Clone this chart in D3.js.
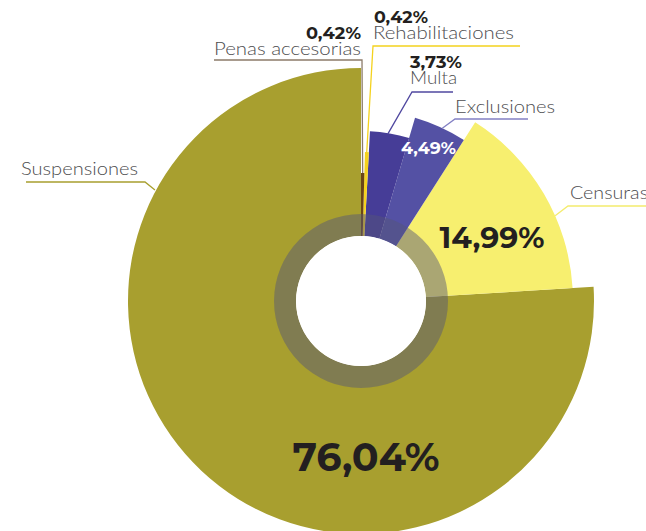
<!DOCTYPE html>
<html><head><meta charset="utf-8">
<script src="https://cdn.jsdelivr.net/npm/d3@7"></script>
<style>
html,body{margin:0;padding:0;background:#fff;}
svg{display:block;}
</style></head>
<body>
<svg id="chart" width="646" height="531"></svg>
<script>
// ---- data ----
const categories = ["Penas accesorias","Rehabilitaciones","Multa","Exclusiones","Censuras","Suspensiones"];
const values = [0.42, 0.42, 3.73, 4.49, 14.99, 76.04];
const valueLabels = ["0,42%","0,42%","3,73%","4,49%","14,99%","76,04%"];

// ---- styles / layout ----
const colors = ["#6B4516","#F4D21E","#463D97","#5451A4","#F7EF6F","#A89F2F"];
const leaderColors = ["#8C7B6A","#F4D21E","#5048A0","#8380C4","#F4EC6E","#A89F2F"];
const W = 646, H = 531, cx = 361, cy = 301;
const holeR = 65, ringR = 87;

const svg = d3.select("#chart");
const g = svg.append("g").attr("transform", `translate(${cx},${cy})`);

const data = categories.map((c, i) => ({name: c, value: values[i], label: valueLabels[i], i}));
const pie = d3.pie().sort(null).value(d => d.value);
const arcsData = pie(data);
const rScale = d3.scaleLinear().domain([0, categories.length - 1]).range([128, 233]);

const arc = d3.arc().innerRadius(holeR).outerRadius(d => rScale(d.data.i));

// draw slices (big ones first so the thin ones remain visible)
g.selectAll("path.slice").data(arcsData.slice().reverse()).join("path")
  .attr("class", "slice")
  .attr("d", arc)
  .attr("fill", d => colors[d.data.i]);

// translucent ring
g.append("path")
  .attr("d", d3.arc().innerRadius(holeR).outerRadius(ringR).startAngle(0).endAngle(2 * Math.PI)())
  .attr("fill", "rgb(85,85,120)").attr("fill-opacity", 0.48);
// white hole
g.append("circle").attr("r", holeR).attr("fill", "#fff");

// ---- leaders & labels ----
const leaderLayout = [
  {a: 0.75, r: 128, elbow: [362, 60], endX: 214, name: {x: 361, y: 55, anchor: "end", w: 147}, pct: {x: 361, y: 39, anchor: "end", w: 55}},
  {a: 2.2, r: 148, elbow: [373, 46], endX: 520, name: {x: 373, y: 39, anchor: "start", w: 141}, pct: {x: 374, y: 23, anchor: "start", w: 54}},
  {a: 9.1, r: 169, elbow: [412, 92], endX: 453, name: {x: 410, y: 84, anchor: "start", w: 47}, pct: {x: 410, y: 68, anchor: "start", w: 52}},
  {a: 25.2, r: 191, elbow: [455, 119], endX: 528, name: {x: 455, y: 113, anchor: "start", w: 100}, pct: null},
  {a: 66.3, r: 212, elbow: [568, 206], endX: 650, name: {x: 570, y: 199, anchor: "start", w: 78}, pct: null},
  {a: 298.3, r: 234, elbow: [145, 182], endX: 26, name: {x: 21, y: 175, anchor: "start", w: 117}, pct: null}
];
const insideLabels = {3: {x: 428.5, y: 154, size: 17, fill: "#fff", w: 55}, 4: {x: 492, y: 248, size: 29, fill: "#231F20", w: 105}, 5: {x: 366, y: 471, size: 40, fill: "#231F20", w: 147}};

const lab = svg.append("g");
leaderLayout.forEach((L, i) => {
  const ang = L.a * Math.PI / 180;
  const sx = cx + L.r * Math.sin(ang), sy = cy - L.r * Math.cos(ang);
  lab.append("polyline")
    .attr("points", [[sx, sy], L.elbow, [L.endX, L.elbow[1]]].map(p => p.join(",")).join(" "))
    .attr("fill", "none").attr("stroke", leaderColors[i]).attr("stroke-width", 1.3);
  lab.append("text")
    .attr("x", L.name.x).attr("y", L.name.y).attr("text-anchor", L.name.anchor)
    .attr("font-family", "Lato, 'Open Sans', sans-serif").attr("font-weight", 300)
    .attr("font-size", 17).attr("fill", "#4D4D4F")
    .attr("textLength", L.name.w).attr("lengthAdjust", "spacingAndGlyphs")
    .text(categories[i]);
  if (L.pct) {
    lab.append("text")
      .attr("x", L.pct.x).attr("y", L.pct.y).attr("text-anchor", L.pct.anchor)
      .attr("font-family", "Montserrat, 'Open Sans', sans-serif").attr("font-weight", 700)
      .attr("font-size", 16).attr("fill", "#231F20")
      .attr("textLength", L.pct.w).attr("lengthAdjust", "spacingAndGlyphs")
      .text(valueLabels[i]);
  }
});
Object.entries(insideLabels).forEach(([i, s]) => {
  lab.append("text")
    .attr("x", s.x).attr("y", s.y).attr("text-anchor", "middle")
    .attr("font-family", "Montserrat, 'Open Sans', sans-serif").attr("font-weight", 700)
    .attr("font-size", s.size).attr("fill", s.fill)
    .attr("textLength", s.w).attr("lengthAdjust", "spacingAndGlyphs")
    .text(valueLabels[+i]);
});
</script>
</body></html>
